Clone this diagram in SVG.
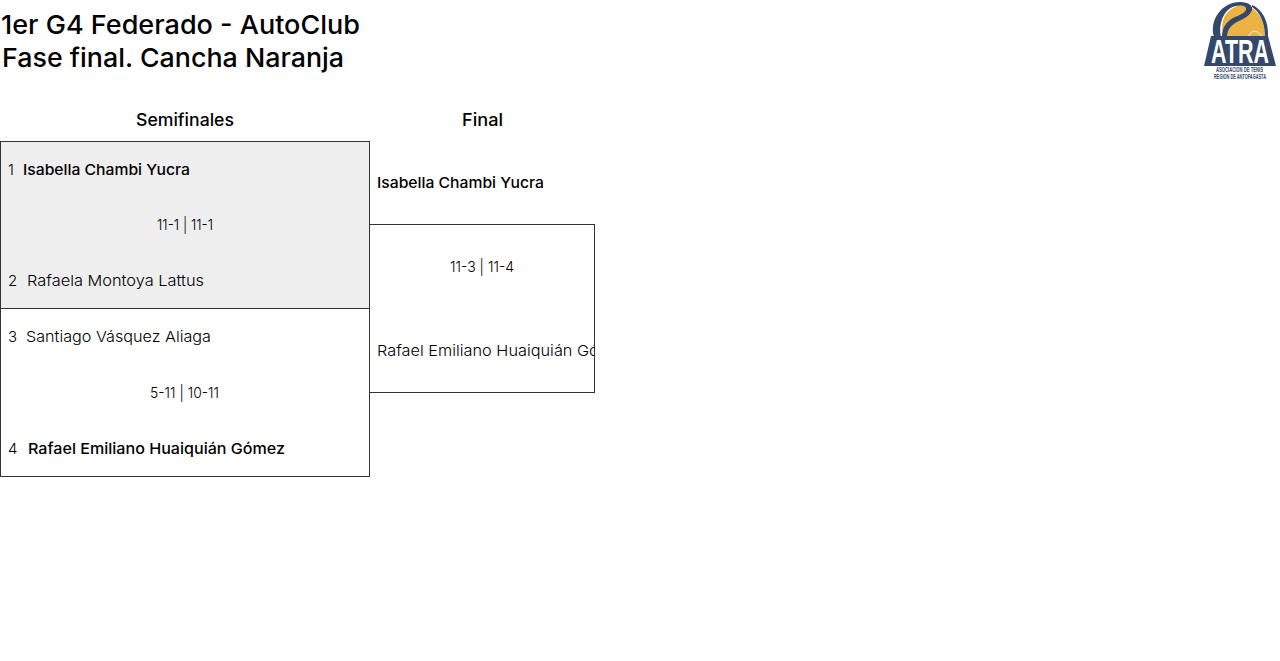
<svg xmlns="http://www.w3.org/2000/svg" width="1280" height="661" viewBox="0 0 1280 661">
<style>
text{font-family:"Inter","Open Sans","Liberation Sans",sans-serif;fill:#000}
.t{font-size:26px;font-weight:500}
.h{font-size:17px;font-weight:500}
.r{font-size:15px;font-weight:300}
.b{font-size:15px;font-weight:500}
.box{stroke:#333;stroke-width:1;fill:#fff}
.logo-t{font-family:"Liberation Sans",sans-serif;font-weight:700}
</style>
<defs><clipPath id="finalClip"><rect x="370" y="225" width="224" height="167"/></clipPath></defs>
<rect width="1280" height="661" fill="#fff"/>
<g id="title">
<text class="t" x="1" y="34" textLength="359" lengthAdjust="spacingAndGlyphs">1er G4 Federado - AutoClub</text>
<text class="t" x="2" y="67" textLength="342" lengthAdjust="spacingAndGlyphs">Fase final. Cancha Naranja</text>
</g>
<g id="logo">
<path d="M1224 37C1219 24 1224 10 1238 6C1252 3 1265 15 1265 37Z" fill="#ecb244"/>
<path d="M1249 37C1250 30 1258 29 1262 37" fill="none" stroke="#fff" stroke-width="1"/>
<path d="M1214 37C1209 20 1222 2 1240 2C1249 2 1253 6 1252 10C1250 16 1243 19 1237 22C1231 25 1227 30 1227 37H1222C1222 28 1226 22 1233 18C1240 15 1247 12 1246 8C1245 5 1240 5 1236 6C1225 8 1218 22 1221 37Z" fill="#34486b"/>
<path d="M1252 5C1262 9 1269 21 1268 37H1265C1265 23 1260 12 1252 7Z" fill="#34486b"/>
<path d="M1211 36H1268L1276 66H1204Z" fill="#34486b"/>
<text class="logo-t" x="1211" y="63" font-size="33" style="fill:#fff" textLength="58" lengthAdjust="spacingAndGlyphs">ATRA</text>
<text class="logo-t" x="1216" y="72" font-size="6.5" style="fill:#34486b" textLength="47" lengthAdjust="spacingAndGlyphs">ASOCIACIÓN DE TENIS</text>
<text class="logo-t" x="1214" y="79" font-size="6.5" style="fill:#34486b" textLength="52" lengthAdjust="spacingAndGlyphs">REGIÓN DE ANTOFAGASTA</text>
</g>
<g id="headers">
<text class="h" x="136" y="126" textLength="98" lengthAdjust="spacingAndGlyphs">Semifinales</text>
<text class="h" x="462" y="126" textLength="41" lengthAdjust="spacingAndGlyphs">Final</text>
</g>
<g id="connectors"></g>
<g id="match-1">
<rect class="box" x="0.5" y="141.5" width="369" height="167" style="fill:#eee"/>
<text class="r" x="8" y="175">1</text>
<text class="b" x="23" y="175" textLength="167" lengthAdjust="spacingAndGlyphs">Isabella Chambi Yucra</text>
<text class="r" x="157" y="230" textLength="56" lengthAdjust="spacingAndGlyphs">11-1 | 11-1</text>
<text class="r" x="8" y="286">2</text>
<text class="r" x="27" y="286" textLength="177" lengthAdjust="spacingAndGlyphs">Rafaela Montoya Lattus</text>
</g>
<g id="match-2">
<rect class="box" x="0.5" y="308.5" width="369" height="168"/>
<text class="r" x="8" y="342">3</text>
<text class="r" x="26" y="342" textLength="185" lengthAdjust="spacingAndGlyphs">Santiago Vásquez Aliaga</text>
<text class="r" x="150" y="398" textLength="69" lengthAdjust="spacingAndGlyphs">5-11 | 10-11</text>
<text class="r" x="8" y="454">4</text>
<text class="b" x="28" y="454" textLength="257" lengthAdjust="spacingAndGlyphs">Rafael Emiliano Huaiquián Gómez</text>
</g>
<g id="final">
<text class="b" x="377" y="188" textLength="167" lengthAdjust="spacingAndGlyphs">Isabella Chambi Yucra</text>
<rect class="box" x="369.5" y="224.5" width="225" height="168"/>
<text class="r" x="450" y="272" textLength="64" lengthAdjust="spacingAndGlyphs">11-3 | 11-4</text>
<text class="r" x="377" y="356" textLength="254" lengthAdjust="spacingAndGlyphs" clip-path="url(#finalClip)">Rafael Emiliano Huaiquián Gómez</text>
</g>
</svg>
